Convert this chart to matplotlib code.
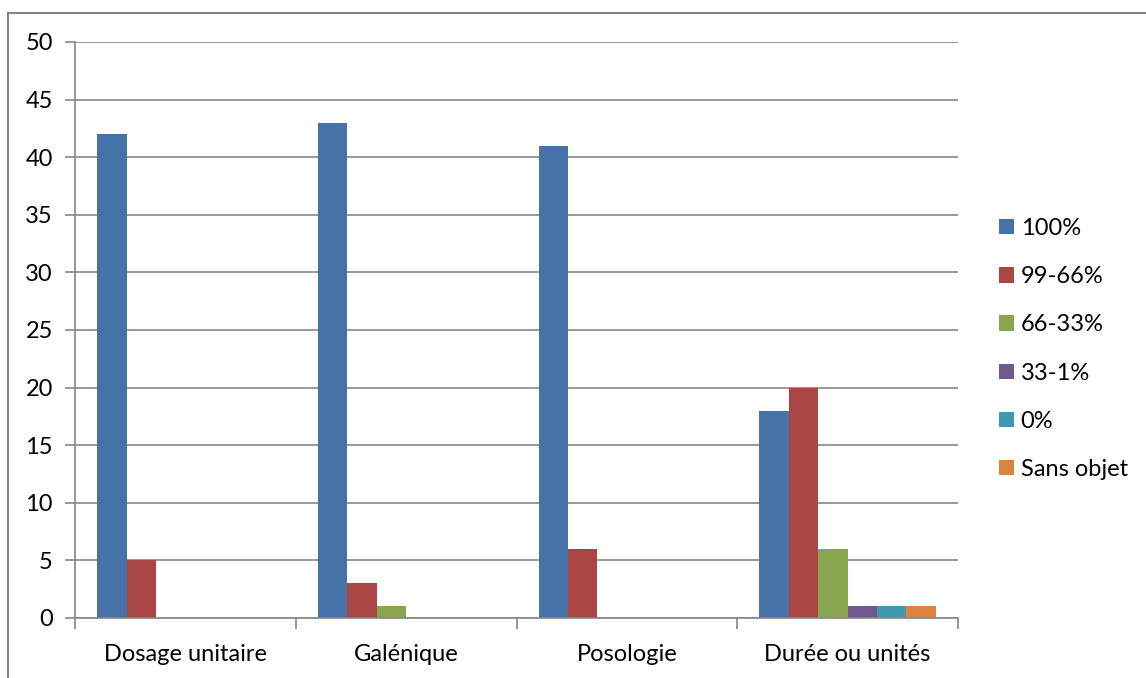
import matplotlib
matplotlib.use("Agg")
import matplotlib.pyplot as plt
from matplotlib.lines import Line2D
import numpy as np

categories = ["Dosage unitaire", "Galénique", "Posologie", "Durée ou unités"]
series_names = ["100%", "99-66%", "66-33%", "33-1%", "0%", "Sans objet"]
v_100 = [42, 43, 41, 18]
v_99_66 = [5, 3, 6, 20]
v_66_33 = [0, 1, 0, 6]
v_33_1 = [0, 0, 0, 1]
v_0 = [0, 0, 0, 1]
v_sans = [0, 0, 0, 1]
series_values = [v_100, v_99_66, v_66_33, v_33_1, v_0, v_sans]
colors = ["#4572A7", "#AA4643", "#89A54E", "#71588F", "#4198AF", "#DB843D"]
y_ticks = [0, 5, 10, 15, 20, 25, 30, 35, 40, 45, 50]

plt.rcParams['font.family'] = ['Lato', 'DejaVu Sans']
FS = 17
W, H = 1146, 678
fig = plt.figure(figsize=(W / 100, H / 100), dpi=100)
ax = fig.add_axes([75 / W, (H - 618) / H, (958 - 75) / W, (618 - 42) / H])

n = len(series_names)
bw = 1.0 / (n + 1.5)
x = np.arange(len(categories))
handles = []
for i, (name, vals, c) in enumerate(zip(series_names, series_values, colors)):
    pos = x - 0.5 + 0.75 * bw + (i + 0.5) * bw
    b = ax.bar(pos, vals, width=bw, color=c, edgecolor='none', zorder=3, label=name)
    handles.append(b)

ax.set_xlim(-0.5, len(categories) - 0.5)
ax.set_ylim(0, 50)
ax.set_yticks(y_ticks)
ax.set_yticklabels([str(t) for t in y_ticks], fontsize=FS)
ax.set_xticks(x)
ax.set_xticklabels(categories, fontsize=FS)
ax.tick_params(axis='x', length=0, pad=19)
ax.tick_params(axis='y', length=7, color='#868686', width=1.2, pad=9)
# category boundary ticks
ax.set_xticks(np.arange(len(categories) + 1) - 0.5, minor=True)
ax.tick_params(axis='x', which='minor', length=8, color='#868686', width=1.2, direction='out')
ax.grid(axis='y', color='#868686', linewidth=1.2, zorder=0)
for s in ['top', 'right']:
    ax.spines[s].set_visible(False)
for s in ['left', 'bottom']:
    ax.spines[s].set_color('#868686')
    ax.spines[s].set_linewidth(1.2)
ax.spines['bottom'].set_zorder(4)

ax.legend(handles=handles, labels=series_names, loc='center left',
          bbox_to_anchor=(999 / W, (H - 349) / H), bbox_transform=fig.transFigure,
          frameon=False, fontsize=FS, handlelength=0.62, handleheight=0.62,
          handletextpad=0.3, labelspacing=1.15, borderaxespad=0, borderpad=0)

# outer chart border
fig.add_artist(Line2D([8 / W, 1], [(H - 13) / H, (H - 13) / H], color='#868686', lw=1.5))
fig.add_artist(Line2D([8 / W, 8 / W], [0, (H - 13) / H], color='#868686', lw=1.5))

fig.savefig("out.png", dpi=100)
